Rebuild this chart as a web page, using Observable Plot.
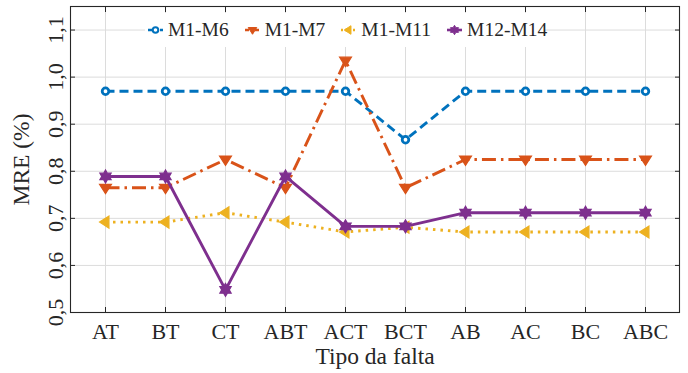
<!DOCTYPE html>
<html>
<head>
<meta charset="utf-8">
<script src="https://cdn.jsdelivr.net/npm/d3@7"></script>
<script src="https://cdn.jsdelivr.net/npm/@observablehq/plot@0.6"></script>
<style>
  body { margin: 0; background: #fff; }
  #wrap { position: relative; width: 688px; height: 373px; font-family: "Liberation Serif", serif; }
  #wrap svg text { font-family: "Liberation Serif", serif; }
  #legend { position: absolute; left: 145px; top: 13px; height: 34px; width: 400px; background: #fff;
    display: flex; align-items: center; font-size: 19.5px; color: #262626; white-space: nowrap; }
  #legend .item { display: flex; align-items: center; margin-right: 0; flex: 0 0 auto; }
  #legend svg { display: block; }
</style>
</head>
<body>
<div id="wrap"></div>
<script>
const categories = ["AT", "BT", "CT", "ABT", "ACT", "BCT", "AB", "AC", "BC", "ABC"];
const seriesNames = ["M1-M6", "M1-M7", "M1-M11", "M12-M14"];
const m1m6  = [0.970, 0.970, 0.970, 0.970, 0.970, 0.867, 0.970, 0.970, 0.970, 0.970];
const m1m7  = [0.765, 0.765, 0.825, 0.765, 1.035, 0.765, 0.825, 0.825, 0.825, 0.825];
const m1m11 = [0.692, 0.692, 0.712, 0.692, 0.671, 0.681, 0.671, 0.671, 0.671, 0.671];
const m12m14 = [0.789, 0.789, 0.548, 0.789, 0.683, 0.683, 0.712, 0.712, 0.712, 0.712];
const yTicks = [0.5, 0.6, 0.7, 0.8, 0.9, 1.0, 1.1];
const xLabel = "Tipo da falta";
const yLabel = "MRE (%)";

const colors = ["#0072BD", "#D95319", "#EDB120", "#7E2F8E"];
const dashes = ["9,5", "14,5,2.5,5", "2.5,5", null];
const FONT = "'Liberation Serif', serif";

// custom symbols
function poly(context, pts) {
  context.moveTo(pts[0][0], pts[0][1]);
  for (let i = 1; i < pts.length; i++) context.lineTo(pts[i][0], pts[i][1]);
  context.closePath();
}
const triDown = { draw(context, size) {
  const r = Math.sqrt(size / Math.PI) * 1.25;
  poly(context, [[-r * 0.95, -r * 0.55], [r * 0.95, -r * 0.55], [0, r * 0.95]]);
}};
const triLeft = { draw(context, size) {
  const r = Math.sqrt(size / Math.PI) * 1.25;
  poly(context, [[r * 0.55, -r * 0.95], [r * 0.55, r * 0.95], [-r * 0.95, 0]]);
}};
const hexagram = { draw(context, size) {
  const R = Math.sqrt(size / Math.PI) * 1.3;
  const pts = [];
  for (let i = 0; i < 12; i++) {
    const a = Math.PI / 2 + i * Math.PI / 6;
    const rr = i % 2 === 0 ? R : R / Math.sqrt(3);
    pts.push([rr * Math.cos(a), -rr * Math.sin(a)]);
  }
  poly(context, pts);
}};

const allSeries = [m1m6, m1m7, m1m11, m12m14];
const rows = allSeries.map(vals => categories.map((c, i) => ({cat: c, v: vals[i]})));

const marks = [
  Plot.gridX(categories, {stroke: "#dcdcdc", strokeOpacity: 1}),
  Plot.gridY(yTicks, {stroke: "#dcdcdc", strokeOpacity: 1}),
];
const dotStyles = [
  {symbol: "circle", r: 3.3, fill: "#fff", stroke: colors[0], strokeWidth: 2.8},
  {symbol: triDown, r: 5, fill: colors[1], stroke: colors[1], strokeWidth: 1.2},
  {symbol: triLeft, r: 5, fill: colors[2], stroke: colors[2], strokeWidth: 1.2},
  {symbol: hexagram, r: 5, fill: colors[3], stroke: colors[3], strokeWidth: 1.2},
];
rows.forEach((data, k) => {
  marks.push(Plot.line(data, {x: "cat", y: "v", stroke: colors[k], strokeWidth: 2.9,
    strokeDasharray: dashes[k], strokeLinecap: "butt", strokeLinejoin: "round"}));
  marks.push(Plot.dot(data, {x: "cat", y: "v", ...dotStyles[k]}));
});
const axisOpts = {tickSize: -5, tickFormat: () => "", label: null, stroke: "#262626"};
marks.push(
  Plot.frame({stroke: "#262626", strokeWidth: 1.1}),
  Plot.axisX(categories, {anchor: "bottom", ...axisOpts}),
  Plot.axisX(categories, {anchor: "top", ...axisOpts}),
  Plot.axisY(yTicks, {anchor: "left", ...axisOpts}),
  Plot.axisY(yTicks, {anchor: "right", ...axisOpts}),
  Plot.text(categories, {x: d => d, frameAnchor: "bottom", dy: 19, text: d => d,
    fontSize: 22, fontFamily: FONT, fill: "#262626", lineAnchor: "middle"}),
  Plot.text(yTicks, {y: d => d, frameAnchor: "left", dx: -15, rotate: -90,
    text: d => d.toFixed(1).replace(".", ","), fontSize: 22, fontFamily: FONT, fill: "#262626",
    textAnchor: "middle", lineAnchor: "middle"}),
  Plot.text([xLabel], {frameAnchor: "bottom", dy: 44, text: d => d, fontSize: 23.5,
    fontFamily: FONT, fill: "#262626", lineAnchor: "middle"}),
  Plot.text([yLabel], {frameAnchor: "left", dx: -49, rotate: -90, text: d => d,
    fontSize: 23.5, fontFamily: FONT, fill: "#262626", textAnchor: "middle", lineAnchor: "middle"})
);

const chart = Plot.plot({
  width: 688,
  height: 373,
  marginLeft: 70,
  marginRight: 9,
  marginTop: 6,
  marginBottom: 61,
  style: {fontFamily: FONT, background: "#fff"},
  x: {type: "point", domain: categories, padding: 0.5, axis: null},
  y: {domain: [0.5, 1.15], axis: null},
  marks
});
const wrap = document.getElementById("wrap");
wrap.appendChild(chart);

// legend (overlay inside the plot area)
const legend = document.createElement("div");
legend.id = "legend";
const symFns = [d3.symbolCircle, triDown, triLeft, hexagram];
seriesNames.forEach((name, k) => {
  const item = document.createElement("div");
  item.className = "item";
  const sw = d3.create("svg").attr("width", 22).attr("height", 20);
  sw.append("line").attr("x1", 3).attr("x2", 18).attr("y1", 10).attr("y2", 10)
    .attr("stroke", colors[k]).attr("stroke-width", 2.6)
    .attr("stroke-dasharray", k === 3 ? null : (k === 0 ? "4,2" : (k === 1 ? "4,2,2,2" : "2,2")));
  const s = k === 0 ? 2.8 : 3.6;
  sw.append("path").attr("transform", "translate(10.5,10)")
    .attr("d", d3.symbol(symFns[k], s * s * Math.PI)())
    .attr("fill", k === 0 ? "#fff" : colors[k]).attr("stroke", colors[k])
    .attr("stroke-width", k === 0 ? 2 : 1);
  item.appendChild(sw.node());
  const t = document.createElement("span");
  t.textContent = name;
  t.style.marginLeft = "1px";
  t.style.marginRight = k === 3 ? "0" : "13px";
  item.appendChild(t);
  legend.appendChild(item);
});
wrap.appendChild(legend);
</script>
</body>
</html>
